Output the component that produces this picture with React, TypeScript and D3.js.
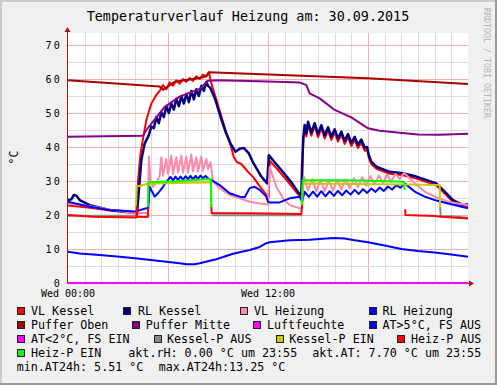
import React, { useEffect, useRef } from "react";
import * as d3 from "d3";

const title = "Temperaturverlauf Heizung am: 30.09.2015";
const yTicks = [0, 10, 20, 30, 40, 50, 60, 70];
const xTickHours = [0, 12];
const xTickLabels = ["Wed 00:00", "Wed 12:00"];

type Pt = [number, number | null];

// [hour, °C]
const vlKessel: Pt[] = [
  [0, 22.8], [1.2, 22.2], [2.5, 21.3], [4.0, 20.5], [4.12, 20.6], [4.2, 30], [4.35, 38], [4.45, 41],
  [4.7, 47.9], [5.0, 52.8], [5.3, 55.3], [5.5, 56.5], [5.7, 58.2], [5.9, 57.0], [6.1, 59.0], [6.3, 58.0],
  [6.5, 59.6], [6.7, 58.6], [6.9, 60.0], [7.1, 59.2], [7.3, 60.3], [7.5, 59.4], [7.7, 60.8], [7.9, 60.0],
  [8.1, 61.3], [8.3, 60.8], [8.45, 62.0], [8.6, 58.7], [8.85, 54.8], [9.15, 49.9], [9.45, 45.0], [9.75, 40.6],
  [9.95, 37.0], [10.15, 35.5], [10.4, 35.0], [10.8, 32.7], [11.1, 31.2], [11.5, 28.5], [11.95, 25.6], [12.05, 25.3],
  [12.1, 36.0], [12.5, 33.8], [13.1, 30.3], [13.7, 26.7], [14.0, 25.2], [14.05, 30], [14.12, 42.1], [14.2, 45.6],
  [14.3, 43.1], [14.4, 46.5], [14.6, 43.3], [14.8, 46.1], [15.0, 42.9], [15.2, 45.5], [15.4, 42.5], [15.6, 44.9],
  [15.8, 42.1], [16.0, 44.3], [16.2, 41.6], [16.4, 43.6], [16.6, 40.9], [16.8, 42.9], [17.0, 40.3], [17.2, 42.1],
  [17.4, 39.7], [17.6, 41.3], [17.8, 38.9], [17.95, 39.1], [18.05, 36.8], [18.2, 35.0], [18.5, 33.6], [19.3, 32.1],
  [20.1, 31.7], [20.9, 30.7], [22.1, 28.7], [22.5, 26.8], [23.1, 23.8], [23.7, 22.3], [24, 22.6],
];

const rlKessel: Pt[] = [
  [0, 24.4], [0.2, 24.6], [0.35, 25.9], [0.5, 25.7], [0.7, 24.4], [1.3, 22.9], [2.5, 21.5], [3.3, 21.1],
  [4.0, 20.8], [4.15, 21.0], [4.3, 30.0], [4.4, 36.2], [4.6, 41.0], [4.85, 43.5], [5.0, 46.0], [5.15, 45.5],
  [5.3, 48.8], [5.45, 47.0], [5.6, 50.2], [5.75, 48.8], [5.9, 52.0], [6.05, 50.0], [6.2, 52.8], [6.35, 51.0],
  [6.5, 54.2], [6.65, 52.0], [6.8, 55.0], [6.95, 52.8], [7.1, 55.6], [7.25, 53.2], [7.4, 56.5], [7.55, 54.0],
  [7.7, 57.0], [7.85, 55.0], [8.0, 58.0], [8.15, 56.5], [8.3, 59.2], [8.4, 58.0], [8.55, 57.3], [8.85, 53.8],
  [9.15, 48.9], [9.45, 44.5], [9.75, 41.0], [10.05, 38.6], [10.3, 39.5], [10.55, 39.7], [10.85, 38.1], [11.1, 35.5],
  [11.6, 31.3], [11.95, 29.3], [12.05, 37.6], [12.45, 35.2], [12.95, 32.3], [13.45, 29.3], [13.85, 26.4], [14.0, 26.0],
  [14.05, 35.0], [14.12, 43.0], [14.2, 46.5], [14.3, 44.0], [14.4, 47.4], [14.6, 44.2], [14.8, 47.0], [15.0, 43.8],
  [15.2, 46.4], [15.4, 43.4], [15.6, 45.8], [15.8, 43.0], [16.0, 45.2], [16.2, 42.5], [16.4, 44.5], [16.6, 41.8],
  [16.8, 43.8], [17.0, 41.2], [17.2, 43.0], [17.4, 40.6], [17.6, 42.2], [17.8, 39.8], [17.95, 40.0], [18.05, 37.6],
  [18.2, 35.7], [18.5, 34.2], [19.3, 32.7], [20.1, 32.3], [20.9, 31.3], [22.1, 29.3], [22.5, 27.4], [23.1, 24.4],
  [23.7, 22.9], [24, 23.2],
];

const vlHeizung: Pt[] = [
  [0, 23.4], [1.0, 22.8], [2.5, 21.6], [4.0, 20.6], [4.8, 20.6], [4.85, 37.2], [4.95, 30], [5.1, 28.3],
  [5.3, 29.5], [5.5, 31.5], [5.6, 37.0], [5.7, 31.5], [5.9, 36.5], [6.0, 32.0], [6.2, 37.5], [6.3, 32.0],
  [6.5, 37.0], [6.6, 32.5], [6.8, 37.5], [6.9, 32.5], [7.1, 37.2], [7.2, 32.5], [7.4, 37.8], [7.5, 32.8],
  [7.7, 37.0], [7.8, 32.8], [8.0, 37.2], [8.1, 33.0], [8.3, 36.5], [8.4, 33.5], [8.55, 35.5], [8.7, 29.8],
  [9.1, 27.9], [9.7, 25.9], [10.3, 24.9], [10.9, 23.9], [11.5, 23.4], [12.0, 23.1], [12.1, 34.2], [12.5, 28.3],
  [12.9, 24.9], [13.3, 22.9], [13.9, 22.0], [14.05, 22.0], [14.15, 31.3], [14.4, 27.3], [14.65, 30.5], [14.9, 27.0],
  [15.15, 30.2], [15.4, 27.0], [15.65, 30.2], [15.9, 27.2], [16.15, 30.3], [16.4, 27.5], [16.65, 30.5], [16.9, 27.8],
  [17.15, 30.8], [17.4, 28.2], [17.65, 31.1], [17.9, 28.6], [18.15, 31.4], [18.4, 29.0], [18.65, 31.6], [18.9, 29.4],
  [19.15, 31.9], [19.4, 29.8], [19.65, 32.1], [19.9, 30.6], [20.15, 32.3], [20.3, 31.8], [20.8, 29.3], [21.4, 26.9],
  [22.0, 25.4], [22.8, 23.9], [24, 22.9],
];

const rlHeizung: Pt[] = [
  [0, 23.9], [1.3, 22.4], [2.5, 21.5], [4.0, 21.0], [4.7, 22.0], [4.82, 22.0], [4.9, 28.3], [5.2, 25.4],
  [5.4, 26.4], [5.7, 28.3], [5.9, 29.8], [6.0, 30.3], [6.15, 31.2], [6.3, 30.2], [6.45, 31.3], [6.6, 30.3],
  [6.75, 31.3], [6.9, 30.4], [7.05, 31.4], [7.2, 30.5], [7.35, 31.5], [7.5, 30.5], [7.65, 31.5], [7.8, 30.6],
  [7.95, 31.6], [8.1, 30.8], [8.25, 31.5], [8.4, 30.8], [8.6, 30.3], [9.1, 28.8], [9.7, 26.4], [10.3, 25.4],
  [10.6, 25.2], [10.9, 27.9], [11.2, 28.3], [11.5, 27.4], [11.9, 25.4], [12.0, 23.9], [12.1, 23.7], [12.7, 23.7],
  [13.3, 24.9], [13.9, 25.4], [14.05, 23.9], [14.1, 25.0], [14.2, 26.8], [14.45, 25.3], [14.7, 26.9], [14.95, 25.4],
  [15.2, 27.0], [15.45, 25.5], [15.7, 27.0], [15.95, 25.6], [16.2, 27.1], [16.45, 25.8], [16.7, 27.2], [16.95, 26.0],
  [17.2, 27.4], [17.45, 26.2], [17.7, 27.6], [17.95, 26.5], [18.2, 27.8], [18.45, 26.8], [18.7, 28.1], [18.95, 27.1],
  [19.2, 28.4], [19.45, 27.5], [19.7, 28.8], [19.95, 28.0], [20.2, 29.3], [20.8, 26.9], [21.4, 25.4], [22.0, 24.4],
  [22.8, 23.4], [24, 22.0],
];

const pufferOben: Pt[] = [
  [0, 59.6], [5.5, 57.8], [5.7, 56.8], [6.0, 57.8], [6.4, 59.2], [7.9, 60.3], [8.3, 60.8], [8.45, 62.0],
  [18, 60.2], [24, 58.5],
];

const pufferMitte: Pt[] = [
  [0, 43.0], [4.5, 43.3], [4.7, 45.0], [5.3, 48.7], [5.8, 51.8], [6.7, 54.8], [7.9, 57.1], [8.4, 59.5],
  [9.0, 59.6], [12, 59.3], [13.9, 59.0], [14.3, 58.2], [14.5, 55.8], [15.1, 54.3], [16.0, 50.9], [17.0, 48.7],
  [18.0, 45.5], [18.7, 44.8], [19.9, 44.2], [21.0, 43.7], [22.3, 43.6], [24, 43.9],
];

const luftfeuchte: Pt[] = [[0, 0], [24, 0]];

const atWarm: Pt[] = [
  [0, 9.2], [0.7, 8.7], [1.9, 8.2], [3.1, 7.7], [4.3, 7.1], [5.5, 6.5], [6.7, 5.8], [7.1, 5.5],
  [7.6, 5.5], [7.9, 5.8], [8.9, 7.0], [9.9, 8.6], [10.9, 9.7], [11.5, 10.6], [11.9, 11.7], [12.1, 12.0],
  [13.3, 12.6], [14.5, 12.7], [15.5, 13.1], [16.0, 13.25], [16.6, 13.1], [17.2, 12.6], [18.0, 12.0], [19.0, 11.0],
  [20.0, 10.0], [21.0, 9.4], [22.0, 9.0], [23.0, 8.4], [24, 7.7],
];

const atCold: Pt[] = [];

const kesselPAus: Pt[] = [
  [0, 19.8], [4.1, 19.8], [4.11, null], [8.62, 19.9], [14.05, 19.9], [14.06, null],
  [22.33, 22.4], [22.36, 19.7], [23.0, 19.6], [24, 19.2],
];

const kesselPEin: Pt[] = [
  [4.08, 22.4], [4.13, 28.4], [4.8, 29.2], [8.58, 29.6], [8.6, 22.2], [8.61, null],
  [14.05, 23.0], [14.1, 29.3], [20.2, 29.0], [22.3, 28.8], [22.33, 22.4],
];

const heizPAus: Pt[] = [
  [0, 20.0], [1.5, 19.5], [4.1, 19.3], [4.13, 22.5], [4.17, 19.5], [4.79, 19.4], [4.81, 22.4], [4.82, null],
  [8.6, 22.4], [8.62, 20.6], [11, 20.5], [14.0, 20.3], [14.05, 23.0], [14.06, null],
  [20.23, 21.7], [20.25, 20.0], [22.0, 19.7], [22.4, 19.5], [24, 19.0],
];

const heizPEin: Pt[] = [
  [4.8, 22.4], [4.83, 29.6], [6.5, 29.9], [8.2, 30.5], [8.57, 30.6], [8.6, 22.4], [8.61, null],
  [14.03, 23.0], [14.08, 30.2], [17, 30.2], [20.15, 29.8], [20.2, 27.4],
];

const series = [
  { name: "VL Kessel", color: "#FF0000", data: vlKessel, width: 2 },
  { name: "RL Kessel", color: "#000080", data: rlKessel, width: 2.5 },
  { name: "VL Heizung", color: "#FF88AA", data: vlHeizung, width: 2 },
  { name: "RL Heizung", color: "#0000FF", data: rlHeizung, width: 2 },
  { name: "Puffer Oben", color: "#AA0000", data: pufferOben, width: 2 },
  { name: "Puffer Mitte", color: "#880088", data: pufferMitte, width: 2 },
  { name: "Luftfeuchte", color: "#FF00FF", data: luftfeuchte, width: 2 },
  { name: "AT>5°C, FS AUS", color: "#0000FF", data: atWarm, width: 2 },
  { name: "AT<2°C, FS EIN", color: "#FF00FF", data: atCold, width: 2 },
  { name: "Kessel-P AUS", color: "#888888", data: kesselPAus, width: 2 },
  { name: "Kessel-P EIN", color: "#C8C800", data: kesselPEin, width: 2 },
  { name: "Heiz-P AUS", color: "#FF0000", data: heizPAus, width: 2 },
  { name: "Heiz-P EIN", color: "#00FF00", data: heizPEin, width: 2 },
];

// legend layout: [series index, box x, text x, row]
const legendLayout = [
  [0, 17, 31, 0], [1, 123, 138, 0], [2, 240, 254, 0], [3, 369, 382.5, 0],
  [4, 17, 31, 1], [5, 132, 145.7, 1], [6, 253, 267, 1], [7, 369, 382.5, 1],
  [8, 17, 31, 2], [9, 154, 167, 2], [10, 276, 289.3, 2], [11, 397, 411, 2],
  [12, 17, 31, 3],
];
const infoTexts = [
  ["akt.rH: 0.00 °C um 23:55", 128.3, 3],
  ["akt.AT: 7.70 °C um 23:55", 312.3, 3],
  ["min.AT24h: 5.51 °C", 16.7, 4],
  ["max.AT24h:13.25 °C", 158.7, 4],
];

const W = 497, H = 385;
const plot = { left: 68, right: 468, top: 33, bottom: 283 };
const mono = "'DejaVu Sans Mono', monospace";

const App = () => {
  const ref = useRef<SVGSVGElement>(null);

  useEffect(() => {
    const svg = d3.select(ref.current);
    svg.selectAll("*").remove();

    const x = d3.scaleLinear().domain([0, 24]).range([plot.left, plot.right]);
    const y = d3.scaleLinear().domain([0, 70]).range([plot.bottom, 45]);

    svg.append("rect").attr("width", W).attr("height", H).attr("fill", "#F0F0F0");
    svg.append("rect").attr("x", 0).attr("y", 0).attr("width", W).attr("height", 2).attr("fill", "#CBCBCB");
    svg.append("rect").attr("x", 0).attr("y", 0).attr("width", 2).attr("height", H).attr("fill", "#CBCBCB");
    svg.append("rect").attr("x", 0).attr("y", H - 2).attr("width", W).attr("height", 2).attr("fill", "#999999");
    svg.append("rect").attr("x", W - 2).attr("y", 0).attr("width", 2).attr("height", H).attr("fill", "#999999");

    svg.append("rect")
      .attr("x", plot.left).attr("y", plot.top)
      .attr("width", plot.right - plot.left).attr("height", plot.bottom - plot.top)
      .attr("fill", "#FFFFFF");

    const grid = svg.append("g").attr("shape-rendering", "crispEdges");
    for (let h = 1; h < 24; h++) {
      grid.append("line")
        .attr("x1", Math.round(x(h)) + 0.5).attr("x2", Math.round(x(h)) + 0.5)
        .attr("y1", plot.top).attr("y2", plot.bottom)
        .attr("stroke", h % 6 === 0 ? "#F2B0B0" : "#DCDCDC");
    }
    for (let v = 5; v <= 70; v += 5) {
      grid.append("line")
        .attr("x1", plot.left).attr("x2", plot.right)
        .attr("y1", Math.round(y(v)) + 0.5).attr("y2", Math.round(y(v)) + 0.5)
        .attr("stroke", v % 10 === 0 ? "#F2B0B0" : "#DCDCDC");
    }

    // axes
    const axisColor = "#A01818";
    svg.append("line").attr("x1", plot.left - 0.5).attr("x2", plot.right + 2)
      .attr("y1", plot.bottom + 0.5).attr("y2", plot.bottom + 0.5).attr("stroke", axisColor);
    svg.append("path").attr("d", `M${plot.right + 1},${plot.bottom - 2.5} L${plot.right + 6},${plot.bottom + 0.5} L${plot.right + 1},${plot.bottom + 3.5} Z`).attr("fill", axisColor);
    svg.append("line").attr("x1", plot.left - 0.5).attr("x2", plot.left - 0.5)
      .attr("y1", plot.bottom + 0.5).attr("y2", plot.top - 2).attr("stroke", axisColor);
    svg.append("path").attr("d", `M${plot.left - 3.5},${plot.top - 1} L${plot.left - 0.5},${plot.top - 6} L${plot.left + 2.5},${plot.top - 1} Z`).attr("fill", axisColor);

    // series
    const line = d3.line<Pt>()
      .defined((d) => d[1] !== null)
      .x((d) => x(d[0]))
      .y((d) => y(d[1] as number));
    const lines = svg.append("g")
      .attr("fill", "none")
      .attr("stroke-linejoin", "round");
    series.forEach((s) => {
      if (!s.data.length) return;
      lines.append("path")
        .attr("d", line(s.data))
        .attr("stroke", s.color)
        .attr("stroke-width", s.width);
    });

    // tick labels
    const tickG = svg.append("g").attr("font-family", mono).attr("font-size", 10).attr("fill", "#000");
    yTicks.forEach((v) => {
      tickG.append("text")
        .attr("x", 62).attr("y", y(v) + 3.5)
        .attr("text-anchor", "end")
        .attr("letter-spacing", 2.2)
        .text(String(v));
    });
    xTickHours.forEach((h, i) => {
      tickG.append("text")
        .attr("x", x(h)).attr("y", 297)
        .attr("text-anchor", "middle")
        .text(xTickLabels[i]);
    });

    svg.append("text")
      .attr("x", 248).attr("y", 21)
      .attr("text-anchor", "middle")
      .attr("font-family", mono).attr("font-size", 13.4)
      .text(title);

    svg.append("text")
      .attr("transform", "translate(18,157.5) rotate(-90)")
      .attr("text-anchor", "middle")
      .attr("font-family", mono).attr("font-size", 11.5)
      .text("°C");

    svg.append("text")
      .attr("transform", "translate(483.5,63) rotate(90)")
      .attr("text-anchor", "middle")
      .attr("font-family", mono).attr("font-size", 8.3)
      .attr("fill", "#B4B4B4")
      .text("RRDTOOL / TOBI OETIKER");

    // legend
    const legend = svg.append("g").attr("font-family", mono).attr("font-size", 11.7).attr("fill", "#000");
    const rowBase = (r: number) => 315 + r * 14;
    legendLayout.forEach(([si, bx, tx, row]) => {
      const s = series[si];
      legend.append("rect")
        .attr("x", bx + 0.5).attr("y", rowBase(row) - 7.5)
        .attr("width", 7).attr("height", 7)
        .attr("fill", s.color).attr("stroke", "#222").attr("stroke-width", 1);
      legend.append("text")
        .attr("x", tx).attr("y", rowBase(row))
        .text(s.name);
    });
    infoTexts.forEach(([t, tx, row]) => {
      legend.append("text")
        .attr("x", tx as number).attr("y", rowBase(row as number))
        .text(t as string);
    });
  }, []);

  return (
    <svg ref={ref} width={W} height={H} style={{ position: "absolute", left: 0, top: 0 }} />
  );
};

export default App;
